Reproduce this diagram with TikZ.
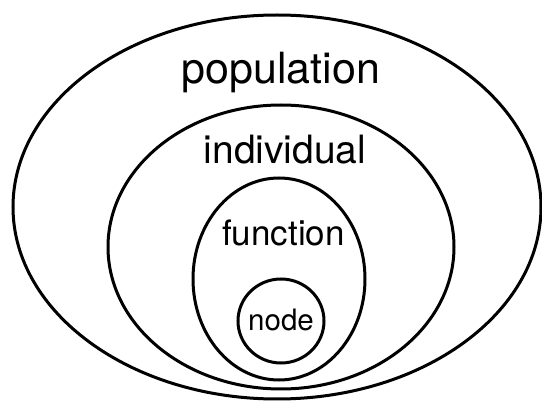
\documentclass[tikz,border=0pt]{standalone}
\usepackage{fontspec}
\setmainfont{TeX Gyre Heros}
\usepackage{tikz}

\begin{document}
\begin{tikzpicture}[x=1pt,y=-1pt,line width=3pt]
    \tikzstyle{level}=[draw=black]
    \tikzstyle{tag}=[inner sep=0pt,anchor=base]

    \useasboundingbox (0,0) rectangle (542,401);

    % nested sets, outermost first
    \draw[level] (277,207) ellipse [x radius=264,y radius=192];
    \draw[level] (281,247) ellipse [x radius=173,y radius=142];
    \draw[level] (279,279) ellipse [x radius=86,y radius=101];
    \draw[level] (281,321) ellipse [x radius=43,y radius=42];

    \node[tag] (pop) at (281,84)   {\fontsize{43}{43}\selectfont population};
    \node[tag] (ind) at (285,164)  {\fontsize{39}{39}\selectfont individual};
    \node[tag] (fun) at (283.5,246){\fontsize{35}{35}\selectfont function};
    \node[tag] (nod) at (281,331)  {\fontsize{29.5}{29.5}\selectfont node};
\end{tikzpicture}
\end{document}
